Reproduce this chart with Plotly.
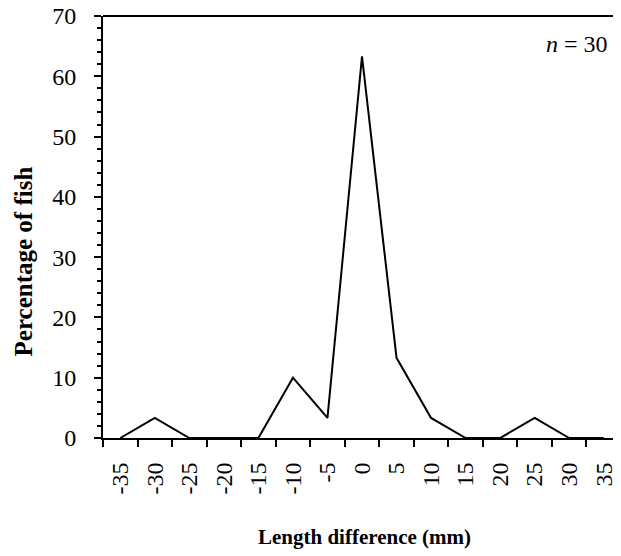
import plotly.graph_objects as go

# length difference classes (mm) and share of fish in each
length_diff = ["-35", "-30", "-25", "-20", "-15", "-10", "-5", "0",
               "5", "10", "15", "20", "25", "30", "35"]
pct_fish = [0, 3.33, 0, 0, 0, 10, 3.33, 63.3, 13.3, 3.33, 0, 0, 3.33, 0, 0]

FONT = "Liberation Serif, Times New Roman, serif"

fig = go.Figure()
fig.add_trace(go.Scatter(
    x=length_diff, y=pct_fish, mode="lines",
    line=dict(color="black", width=2), showlegend=False, cliponaxis=False,
))

fig.update_xaxes(
    type="category", range=[-0.5, 14.5], tickson="boundaries",
    ticks="outside", ticklen=7, tickwidth=2, tickcolor="black",
    showline=True, linewidth=2, linecolor="black",
    showgrid=False, zeroline=False, tickangle=-90, automargin=False,
    tickfont=dict(family=FONT, size=24, color="black"),
    ticklabelstandoff=13, ticklabeloverflow="allow",
)
fig.update_yaxes(
    range=[0, 70], dtick=10, ticks="outside", ticklen=7, tickwidth=2,
    tickcolor="black", showline=True, linewidth=2, linecolor="black",
    showgrid=False, zeroline=False, automargin=False,
    minor=dict(dtick=2, ticks="outside", ticklen=4, tickwidth=2,
               tickcolor="black", showgrid=False),
    tickfont=dict(family=FONT, size=24, color="black"),
    ticklabelstandoff=13, ticklabeloverflow="allow",
)

# top border of the plot
fig.add_shape(type="line", xref="paper", yref="paper",
              x0=0, x1=1, y0=1, y1=1, line=dict(color="black", width=2))

# page body adds an 8px offset, so the figure is drawn 8px smaller
fig.update_layout(
    width=613, height=548,
    margin=dict(l=95, r=0, t=8, b=118),
    paper_bgcolor="white", plot_bgcolor="white",
    annotations=[
        dict(text="<b>Percentage of fish</b>", x=-0.154, y=0.419,
             xref="paper", yref="paper", showarrow=False, textangle=-90,
             xanchor="center", yanchor="middle",
             font=dict(family=FONT, size=25, color="black")),
        dict(text="<b>Length difference (mm)</b>", x=0.504, y=-0.2346,
             xref="paper", yref="paper", showarrow=False,
             xanchor="center", yanchor="middle",
             font=dict(family=FONT, size=21, color="black")),
        dict(text="<i>n</i> = 30", x=0.979, y=0.934,
             xref="paper", yref="paper", showarrow=False,
             xanchor="right", yanchor="middle",
             font=dict(family=FONT, size=24, color="black")),
    ],
)

fig.write_html("out.html")
